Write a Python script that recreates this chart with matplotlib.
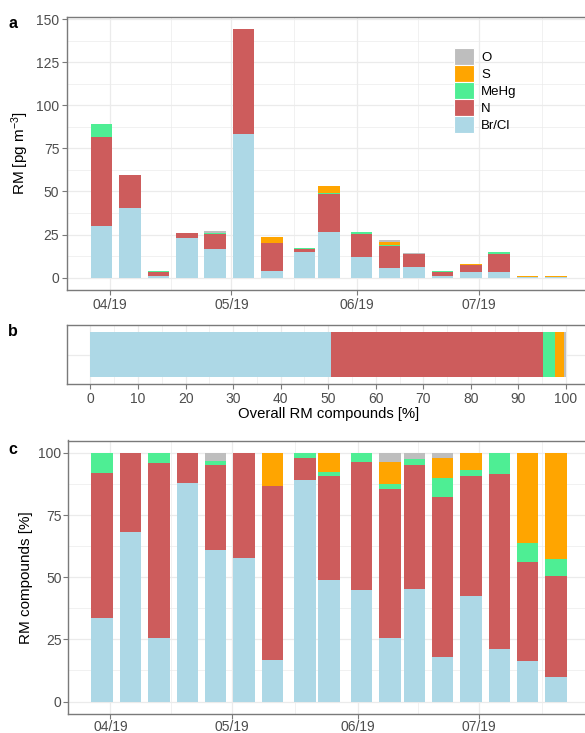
import numpy as np
import pandas as pd
import matplotlib
matplotlib.use("Agg")
import matplotlib.pyplot as plt
import matplotlib.dates as mdates
from matplotlib.patches import Patch
from matplotlib.ticker import MultipleLocator, FixedLocator

plt.rcParams['font.family'] = ['Liberation Sans', 'DejaVu Sans']
plt.rcParams['mathtext.default'] = 'regular'

# sampling weeks (bar centres)
dates = ['2019-03-30', '2019-04-06', '2019-04-13', '2019-04-20', '2019-04-27',
         '2019-05-04', '2019-05-11', '2019-05-19', '2019-05-25', '2019-06-02',
         '2019-06-09', '2019-06-15', '2019-06-22', '2019-06-29', '2019-07-06',
         '2019-07-13', '2019-07-20']

# RM concentrations per compound class [pg m-3]
brcl = [30.0, 40.4, 0.9, 22.7, 16.3, 83.4, 3.9, 15.1, 26.2, 11.8, 5.5, 6.4, 0.73, 3.4, 3.2, 0.13, 0.10]
n_cmp = [51.6, 19.0, 2.5, 3.1, 9.2, 60.8, 16.4, 1.5, 22.3, 13.5, 12.9, 7.0, 2.65, 3.9, 10.55, 0.32, 0.41]
mehg = [7.3, 0.0, 0.14, 0.0, 0.43, 0.0, 0.0, 0.35, 0.7, 0.95, 0.5, 0.35, 0.30, 0.18, 1.25, 0.06, 0.07]
s_cmp = [0.0, 0.0, 0.0, 0.0, 0.0, 0.0, 3.1, 0.0, 4.2, 0.0, 1.9, 0.0, 0.33, 0.56, 0.0, 0.29, 0.43]
o_cmp = [0.0, 0.0, 0.0, 0.0, 0.83, 0.0, 0.0, 0.0, 0.0, 0.0, 0.77, 0.33, 0.09, 0.0, 0.0, 0.0, 0.0]

labels = ['Br/Cl', 'N', 'MeHg', 'S', 'O']
colors = ['#ADD8E6', '#CD5C5C', '#4EEE94', '#FFA500', '#BEBEBE']
month_ticks = ['2019-04-01', '2019-05-01', '2019-06-01', '2019-07-01']
month_labels = ['04/19', '05/19', '06/19', '07/19']

series = np.array([brcl, n_cmp, mehg, s_cmp, o_cmp])
x = mdates.date2num(pd.to_datetime(dates))
width = 5.3
total = series.sum(axis=0)
pct = series / total * 100
overall = series.sum(axis=1) / series.sum() * 100

W, H = 585, 733
fig = plt.figure(figsize=(W / 100, H / 100), dpi=100)


def box(l, t, r, b):
    return [l / W, 1 - b / H, (r - l) / W, (b - t) / H]


ax_a = fig.add_axes(box(67, 16.7, 590.6, 290))
ax_b = fig.add_axes(box(66.7, 325, 589.8, 384))
ax_c = fig.add_axes(box(67.7, 440.5, 590.6, 714))

frame = '#7A7A7A'
gridc = '#EBEBEB'


def style(ax, pad=2):
    for sp in ax.spines.values():
        sp.set_color(frame)
        sp.set_linewidth(1.0)
    ax.set_axisbelow(True)
    ax.grid(True, which='major', color=gridc, lw=0.9)
    ax.grid(True, which='minor', color=gridc, lw=0.5)
    ax.tick_params(which='major', length=3.5, width=0.8, color=frame,
                   labelsize=10, labelcolor='#4D4D4D', pad=pad)
    ax.tick_params(which='minor', length=0)


xlo = x.min() - width / 2
xhi = x.max() + width / 2
xpad = (xhi - xlo) * 0.05
mt = mdates.date2num(pd.to_datetime(month_ticks))
minor_x = (mt[:-1] + mt[1:]) / 2
minor_x = np.append(minor_x, mt[-1] + 15.5)

# panel a: absolute
bottom = np.zeros(len(x))
for vals, c in zip(series, colors):
    ax_a.bar(x, vals, width, bottom=bottom, color=c, lw=0)
    bottom += vals
ax_a.set_xlim(xlo - xpad, xhi + xpad)
ymax = total.max()
ax_a.set_ylim(-0.05 * ymax, ymax * 1.05)
ax_a.yaxis.set_major_locator(MultipleLocator(25))
ax_a.yaxis.set_minor_locator(MultipleLocator(12.5))
ax_a.xaxis.set_major_locator(FixedLocator(mt))
ax_a.xaxis.set_minor_locator(FixedLocator(minor_x))
ax_a.set_xticklabels(month_labels)
ax_a.set_ylabel('RM [pg m$^{-3}$]', fontsize=11, labelpad=4)
style(ax_a)

handles = [Patch(facecolor=c, edgecolor='white', lw=0.8) for c in colors][::-1]
ax_a.legend(handles, labels[::-1], loc='upper left',
            bbox_to_anchor=(454 / W, 1 - 48 / H), bbox_transform=fig.transFigure,
            frameon=False, fontsize=9.5, borderpad=0, borderaxespad=0,
            labelspacing=0, handlelength=1.52, handleheight=1.61, handletextpad=0.55)

# panel b: overall share
left = 0.0
for v, c in zip(overall, colors):
    ax_b.barh(0, v, 0.9, left=left, color=c, lw=0)
    left += v
ax_b.set_xlim(-5, 105)
ax_b.set_ylim(-0.6, 0.6)
ax_b.xaxis.set_major_locator(MultipleLocator(10))
ax_b.xaxis.set_minor_locator(MultipleLocator(5))
ax_b.set_yticks([0])
ax_b.set_yticklabels([])
style(ax_b)
ax_b.tick_params(axis='y', length=0)
ax_b.set_xlabel('Overall RM compounds [%]', fontsize=10.7, labelpad=1)

# panel c: relative
bottom = np.zeros(len(x))
for vals, c in zip(pct, colors):
    ax_c.bar(x, vals, width, bottom=bottom, color=c, lw=0)
    bottom += vals
ax_c.set_xlim(xlo - xpad, xhi + xpad)
ax_c.set_ylim(-5, 105)
ax_c.yaxis.set_major_locator(MultipleLocator(25))
ax_c.yaxis.set_minor_locator(MultipleLocator(12.5))
ax_c.xaxis.set_major_locator(FixedLocator(mt))
ax_c.xaxis.set_minor_locator(FixedLocator(minor_x))
ax_c.set_xticklabels(month_labels)
ax_c.set_ylabel('RM compounds [%]', fontsize=11, labelpad=4)
style(ax_c, pad=1)

for lab, yy in zip(['a', 'b', 'c'], [24, 332, 449]):
    fig.text(13 / W, 1 - yy / H, lab, fontsize=11.5, fontweight='bold',
             ha='center', va='center')

fig.savefig('out.png', dpi=100)
